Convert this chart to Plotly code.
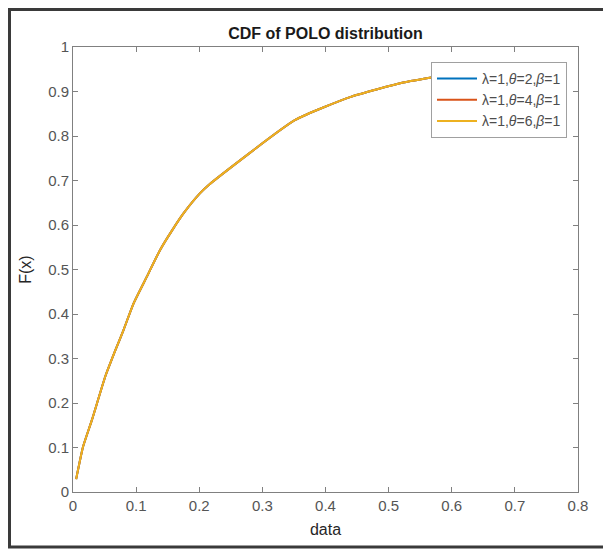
import plotly.graph_objects as go

# Data (the three curves coincide)
x_data = [0.005, 0.016, 0.030, 0.051, 0.067, 0.080, 0.096, 0.117, 0.138, 0.157,
          0.175, 0.201, 0.215, 0.352, 0.44, 0.523, 0.575]
y_theta2 = [0.029, 0.102, 0.162, 0.259, 0.318, 0.364, 0.424, 0.484, 0.544, 0.588,
            0.626, 0.671, 0.690, 0.836, 0.888, 0.920, 0.933]
y_theta4 = [0.029, 0.102, 0.162, 0.259, 0.318, 0.364, 0.424, 0.484, 0.544, 0.588,
            0.626, 0.671, 0.690, 0.836, 0.888, 0.920, 0.933]
y_theta6 = [0.029, 0.102, 0.162, 0.259, 0.318, 0.364, 0.424, 0.484, 0.544, 0.588,
            0.626, 0.671, 0.690, 0.836, 0.888, 0.920, 0.933]

names = ["λ=1,<i>θ</i>=2,<i>β</i>=1", "λ=1,<i>θ</i>=4,<i>β</i>=1", "λ=1,<i>θ</i>=6,<i>β</i>=1"]
colors = ["#0072BD", "#D95319", "#EDB120"]
series = [y_theta2, y_theta4, y_theta6]

x_ticks = [0, 0.1, 0.2, 0.3, 0.4, 0.5, 0.6, 0.7, 0.8]
y_ticks = [0, 0.1, 0.2, 0.3, 0.4, 0.5, 0.6, 0.7, 0.8, 0.9, 1]

fig = go.Figure()
for ys, nm, c in zip(series, names, colors):
    fig.add_trace(go.Scatter(x=x_data, y=ys, mode="lines", name=nm,
                             line=dict(color=c, width=2, shape="spline", smoothing=0.5)))

# The page body adds an 8px offset, so work in page coords minus 8
OFF = 8
W, H = 611 - OFF, 550 - OFF
L, R, T, B = 73 - OFF, 578 - OFF, 47 - OFF, 492 - OFF
pw, ph = R - L, B - T

def px2paper(px, py):
    return (px - L) / pw, (B - py) / ph

x0, y0 = px2paper(1.5, 539)
x1, y1 = px2paper(599, 1.5)

font_family = "Liberation Sans, Arial, sans-serif"
axis_common = dict(
    showline=True, linecolor="#808080", linewidth=1, mirror="ticks",
    ticks="inside", ticklen=5, tickcolor="#808080", showgrid=False, zeroline=False,
    tickfont=dict(family=font_family, size=15, color="#555555"),
)

fig.update_layout(
    width=W, height=H,
    margin=dict(l=L, r=W - R, t=T, b=H - B, autoexpand=False),
    paper_bgcolor="white", plot_bgcolor="white",
    title=dict(text="<b>CDF of POLO distribution</b>", x=(L + R) / 2 / W, xanchor="center",
               y=1 - (33 - OFF) / H, yanchor="middle",
               font=dict(family=font_family, size=16, color="#1a1a1a")),
    xaxis=dict(range=[0, 0.8], tickvals=x_ticks, ticktext=[str(v) for v in x_ticks],
               title=dict(text="data", standoff=10,
                          font=dict(family=font_family, size=16, color="#262626")),
               **axis_common),
    yaxis=dict(range=[0, 1], tickvals=y_ticks, ticktext=[str(v) for v in y_ticks],
               title=dict(text="F(x)", standoff=12,
                          font=dict(family=font_family, size=16, color="#262626")),
               **axis_common),
    legend=dict(x=(567 - OFF - L) / pw, xanchor="right", y=(B - (62 - OFF)) / ph, yanchor="top",
                bgcolor="white", bordercolor="#a0a0a0", borderwidth=1,
                font=dict(family=font_family, size=14, color="#4d4d4d"),
                tracegroupgap=0, itemwidth=40),
    showlegend=True,
    shapes=[dict(type="rect", xref="paper", yref="paper", x0=x0, y0=y0, x1=x1, y1=y1,
                 line=dict(color="#3a3a3a", width=3), layer="above")],
)

fig.write_html("out.html")
